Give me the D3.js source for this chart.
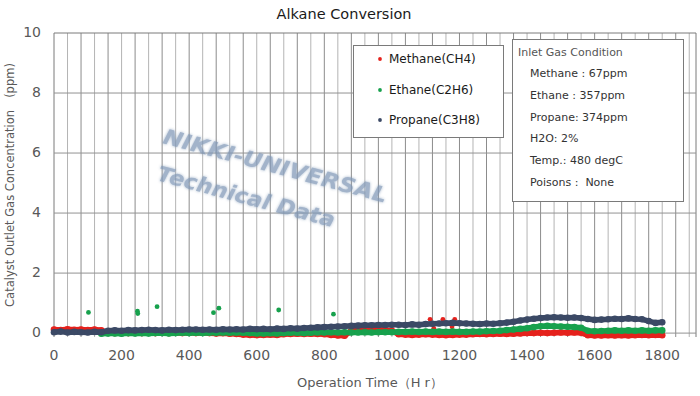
<!DOCTYPE html>
<html>
<head>
<meta charset="utf-8">
<script src="https://cdn.jsdelivr.net/npm/d3@7"></script>
<style>
  body { margin: 0; background: #fff; }
  svg { display: block; font-family: "DejaVu Sans", sans-serif; }
</style>
</head>
<body>
<div id="chart"></div>
<script>
(function () {
  // ================================================
  // 1. DATA (20 h sampling)
  // ================================================
  const hours = [
    0, 20, 40, 60, 80, 100, 120, 140, 160, 180, 200, 220, 240, 260, 280, 300, 320, 340, 360, 380,
    400, 420, 440, 460, 480, 500, 520, 540, 560, 580, 600, 620, 640, 660, 680, 700, 720, 740, 760, 780,
    800, 820, 840, 860, 880, 900, 920, 940, 960, 980, 1000, 1020, 1040, 1060, 1080, 1100, 1120, 1140, 1160, 1180,
    1200, 1220, 1240, 1260, 1280, 1300, 1320, 1340, 1360, 1380, 1400, 1420, 1440, 1460, 1480, 1500, 1520, 1540, 1560, 1580,
    1600, 1620, 1640, 1660, 1680, 1700, 1720, 1740, 1760, 1780, 1800
  ];

  const methane = [
    0.12, 0.10, 0.13, 0.11, 0.12, 0.10, 0.12, 0.09,
    0.01, 0.00, 0.01, 0.00, 0.01, 0.00, 0.01, 0.00, 0.01, 0.00, 0.01, 0.00, 0.01,
    0.00, 0.01, 0.00, -0.01, 0.00, -0.02, -0.03, -0.05, -0.06, -0.07,
    -0.06, -0.05, -0.06, -0.04, -0.03, -0.02, -0.03, -0.02, -0.03, -0.04,
    -0.06, -0.08, -0.09, 0.08, 0.12, 0.13, 0.12, 0.11, 0.10, 0.08,
    -0.04, -0.05, -0.06, -0.05, -0.04, -0.05, -0.06, -0.07, -0.06, -0.05,
    -0.05, -0.04, -0.03, -0.04, -0.03, -0.02, -0.03, -0.02, -0.01, 0.00,
    0.00, 0.01, 0.00, 0.01, 0.02, 0.01, 0.02, 0.01, -0.07, -0.08,
    -0.08, -0.07, -0.08, -0.07, -0.08, -0.07, -0.06, -0.07, -0.06, -0.07
  ];

  const ethane = [
    null, null, null, null, null, null, null,
    -0.02, -0.01, -0.01, -0.02, 0.00, -0.01, 0.00, -0.01, 0.00, 0.00, -0.01, 0.00, 0.01, 0.00,
    0.01, 0.00, 0.01, 0.01, 0.02, 0.01, 0.02, 0.01, 0.00, -0.01,
    -0.01, 0.00, -0.01, 0.00, 0.01, 0.01, 0.00, 0.01, 0.02, 0.02,
    0.03, 0.02, 0.03, 0.02, 0.02, 0.03, 0.02, 0.03, 0.03, 0.03,
    0.04, 0.04, 0.05, 0.04, 0.05, 0.04, 0.05, 0.04, 0.05, 0.04,
    0.04, 0.05, 0.05, 0.06, 0.07, 0.08, 0.10, 0.12, 0.14, 0.16,
    0.20, 0.23, 0.24, 0.23, 0.22, 0.21, 0.20, 0.18, 0.08, 0.06,
    0.07, 0.08, 0.09, 0.08, 0.09, 0.08, 0.09, 0.08, 0.09, 0.09
  ];

  const propane = [
    0.03, 0.05, 0.02, 0.04, 0.03, 0.02, 0.04, 0.03,
    0.08, 0.09, 0.08, 0.10, 0.09, 0.10, 0.11, 0.10, 0.09, 0.11, 0.10, 0.11, 0.12,
    0.12, 0.11, 0.12, 0.11, 0.13, 0.12, 0.13, 0.12, 0.14, 0.13,
    0.14, 0.13, 0.15, 0.14, 0.16, 0.15, 0.17, 0.18, 0.19, 0.20,
    0.21, 0.22, 0.23, 0.24, 0.25, 0.26, 0.26, 0.27, 0.27, 0.28,
    0.28, 0.27, 0.29, 0.28, 0.30, 0.31, 0.32, 0.33, 0.34, 0.33,
    0.32, 0.31, 0.30, 0.32, 0.31, 0.33, 0.35, 0.38, 0.42, 0.45,
    0.48, 0.50, 0.52, 0.53, 0.52, 0.51, 0.52, 0.50, 0.47, 0.44,
    0.45, 0.46, 0.48, 0.47, 0.49, 0.47, 0.46, 0.40, 0.34, 0.36
  ];

  // stray readings, [hour, ppm]
  const methaneSpikes = [[1113, 0.46], [1151, 0.46], [1186, 0.46], [1124, 0.16], [1178, 0.21]];
  const ethaneSpikes = [[102, 0.69], [247, 0.73], [248, 0.65], [305, 0.88], [472, 0.68], [488, 0.83], [665, 0.77], [827, 0.63]];

  const xTicks = [0, 200, 400, 600, 800, 1000, 1200, 1400, 1600, 1800];
  const yTicks = [0, 2, 4, 6, 8, 10];

  const seriesNames = ["Methane(CH4)", "Ethane(C2H6)", "Propane(C3H8)"];
  const seriesColors = ["#e5211c", "#17a14d", "#3b4965"];

  const inletTitle = "Inlet Gas Condition";
  const inletLines = ["Methane : 67ppm", "Ethane : 357ppm", "Propane: 374ppm", "H2O: 2%", "Temp.: 480 degC", "Poisons :  None"];

  // ================================================
  // 2. LAYOUT
  // ================================================
  const W = 700, H = 396;
  const plot = { left: 54, right: 696, top: 33, bottom: 337 };

  const x = d3.scaleLinear().domain([0, 1900]).range([plot.left, plot.right]);
  const y = d3.scaleLinear().domain([-0.13, 10]).range([plot.bottom, plot.top]);

  const svg = d3.select("#chart").append("svg")
    .attr("width", W)
    .attr("height", H)
    .attr("viewBox", `0 0 ${W} ${H}`);

  svg.append("rect").attr("width", W).attr("height", H).attr("fill", "#fff");

  const defs = svg.append("defs");
  const glow = defs.append("filter").attr("id", "wm-glow")
    .attr("x", "-10%").attr("y", "-30%").attr("width", "120%").attr("height", "160%");
  glow.append("feGaussianBlur").attr("in", "SourceGraphic").attr("stdDeviation", 1.6).attr("result", "blur");
  const merge = glow.append("feMerge");
  merge.append("feMergeNode").attr("in", "blur");
  merge.append("feMergeNode").attr("in", "SourceGraphic");

  // ================================================
  // 3. GRID
  // ================================================
  const grid = svg.append("g");

  grid.selectAll(".vline")
    .data(d3.range(0, 1900, 40).concat([1900]))
    .enter().append("line")
    .attr("x1", d => x(d)).attr("x2", d => x(d))
    .attr("y1", plot.top).attr("y2", plot.bottom)
    .attr("stroke", d => (d === 0 || d === 1900) ? "#7a7a7a" : (d % 80 === 0 ? "#8c8c8c" : "#b4b4b4"))
    .attr("stroke-width", 1);

  grid.selectAll(".hline")
    .data(yTicks)
    .enter().append("line")
    .attr("x1", plot.left).attr("x2", plot.right)
    .attr("y1", d => y(d)).attr("y2", d => y(d))
    .attr("stroke", d => d === 10 ? "#7a7a7a" : "#929292")
    .attr("stroke-width", 1);

  // ================================================
  // 4. WATERMARK
  // ================================================
  const wm = svg.append("g")
    .attr("opacity", 0.72)
    .attr("filter", "url(#wm-glow)")
    .style("font-family", "'DejaVu Sans', sans-serif")
    .style("font-weight", "bold")
    .style("font-style", "italic")
    .style("font-size", "21px")
    .attr("fill", "#7f97b6");

  wm.append("text")
    .attr("transform", "translate(162,143) rotate(15)")
    .attr("textLength", 231).attr("lengthAdjust", "spacingAndGlyphs")
    .text("NIKKI-UNIVERSAL");

  wm.append("text")
    .attr("transform", "translate(156,180) rotate(15)")
    .attr("textLength", 183).attr("lengthAdjust", "spacingAndGlyphs")
    .text("Technical Data");

  // ================================================
  // 5. SERIES
  // ================================================
  const series = [methane, ethane, propane].map((vals, i) => ({
    name: seriesNames[i],
    color: seriesColors[i],
    points: vals.map((v, j) => ({ h: hours[j], v: v })).filter(d => d.v !== null)
  }));

  const line = d3.line()
    .x(d => x(d.h))
    .y(d => y(d.v))
    .curve(d3.curveLinear);

  const dataG = svg.append("g");
  const spikes = [methaneSpikes, ethaneSpikes, []];

  series.forEach((s, i) => {
    const g = dataG.append("g");
    g.append("path")
      .datum(s.points)
      .attr("d", line)
      .attr("fill", "none")
      .attr("stroke", s.color)
      .attr("stroke-width", 5.6)
      .attr("stroke-linejoin", "round")
      .attr("stroke-linecap", "round");

    g.selectAll("circle.pt")
      .data(s.points)
      .enter().append("circle")
      .attr("class", "pt")
      .attr("cx", d => x(d.h))
      .attr("cy", d => y(d.v))
      .attr("r", 3.3)
      .attr("fill", s.color);

    g.selectAll("circle.spike")
      .data(spikes[i])
      .enter().append("circle")
      .attr("class", "spike")
      .attr("cx", d => x(d[0])).attr("cy", d => y(d[1]))
      .attr("r", 2.4).attr("fill", s.color);
  });

  // ================================================
  // 6. AXES TEXT
  // ================================================
  svg.append("g").selectAll("text")
    .data(yTicks)
    .enter().append("text")
    .attr("x", 41)
    .attr("y", d => y(d) - 1)
    .attr("dy", "0.36em")
    .attr("text-anchor", "end")
    .style("font-size", "14px")
    .attr("fill", "#595959")
    .text(d => d);

  svg.append("g").selectAll("text")
    .data(xTicks)
    .enter().append("text")
    .attr("x", d => x(d))
    .attr("y", 360)
    .attr("text-anchor", "middle")
    .style("font-size", "14px")
    .attr("fill", "#595959")
    .text(d => d);

  svg.append("text")
    .attr("x", 370)
    .attr("y", 387)
    .attr("text-anchor", "middle")
    .style("font-size", "13px")
    .attr("fill", "#595959")
    .text("Operation Time（H r）");

  svg.append("text")
    .attr("transform", "translate(14,185) rotate(-90)")
    .attr("text-anchor", "middle")
    .style("font-size", "11.5px")
    .attr("fill", "#595959")
    .text("Catalyst Outlet Gas Concentration\u3000(ppm)");

  svg.append("text")
    .attr("x", 344)
    .attr("y", 19)
    .attr("text-anchor", "middle")
    .style("font-size", "14.5px")
    .attr("fill", "#1a1a1a")
    .text("Alkane Conversion");

  // ================================================
  // 7. LEGEND
  // ================================================
  const legend = svg.append("g");
  legend.append("rect")
    .attr("x", 353.5).attr("y", 45.5)
    .attr("width", 150).attr("height", 92)
    .attr("fill", "#fff")
    .attr("stroke", "#7a7a7a");

  const legendRows = [59, 90, 120];
  series.forEach((s, i) => {
    legend.append("circle")
      .attr("cx", 380).attr("cy", legendRows[i])
      .attr("r", 1.9).attr("fill", s.color);
    legend.append("text")
      .attr("x", 389).attr("y", legendRows[i])
      .attr("dy", "0.36em")
      .style("font-size", "12px")
      .attr("fill", "#1a1a1a")
      .text(s.name);
  });

  // ================================================
  // 8. INLET GAS BOX
  // ================================================
  const info = svg.append("g");
  info.append("rect")
    .attr("x", 512.5).attr("y", 39.5)
    .attr("width", 171).attr("height", 162)
    .attr("fill", "#fff")
    .attr("stroke", "#7a7a7a");

  info.append("text")
    .attr("x", 518).attr("y", 52)
    .attr("dy", "0.36em")
    .style("font-size", "11px")
    .attr("fill", "#555")
    .text(inletTitle);

  info.selectAll(".row")
    .data(inletLines)
    .enter().append("text")
    .attr("x", 530)
    .attr("y", (d, i) => 73 + i * 21.8)
    .attr("dy", "0.36em")
    .style("font-size", "11px")
    .style("white-space", "pre")
    .attr("fill", "#333")
    .text(d => d);
})();
</script>
</body>
</html>
